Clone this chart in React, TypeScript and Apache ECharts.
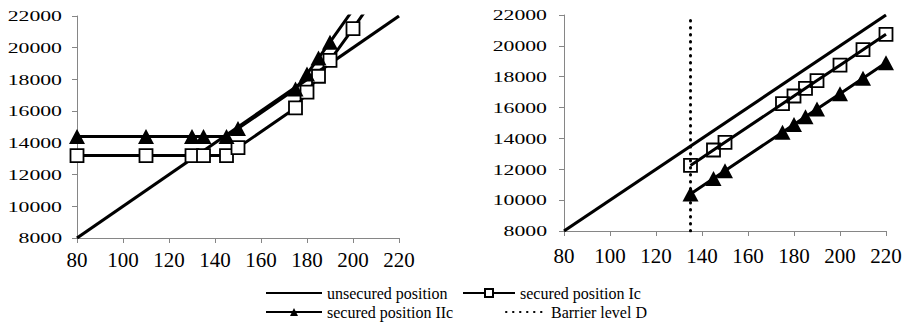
import React, { useEffect, useRef } from "react";
import * as echarts from "echarts";

// ---- data ----
const yTickLabels = [8000, 10000, 12000, 14000, 16000, 18000, 20000, 22000];

const unsecuredX = [80, 220];
const unsecuredY = [8000, 22000];

// left panel
const leftIcX = [80, 110, 130, 135, 145, 150, 175, 180, 185, 190, 200, 210];
const leftIcY = [13200, 13200, 13200, 13200, 13200, 13700, 16200, 17200, 18200, 19200, 21200, 23300];
const leftIIcX = [80, 110, 130, 135, 145, 150, 175, 180, 185, 190, 200];
const leftIIcY = [14400, 14400, 14400, 14400, 14400, 14900, 17400, 18350, 19350, 20350, 22400];

// right panel
const rightX = [135, 145, 150, 175, 180, 185, 190, 200, 210, 220];
const rightIcY = [12250, 13250, 13750, 16250, 16750, 17250, 17750, 18750, 19750, 20750];
const rightIIcY = [10400, 11400, 11900, 14400, 14900, 15400, 15900, 16900, 17900, 18900];

const barrierX = [135, 135];
const barrierY = [8000, 21800];

const names = ["unsecured position", "secured position Ic", "secured position IIc", "Barrier level D"];

const zip = (xs: number[], ys: number[]) => xs.map((x, i) => [x, ys[i]]);

const SERIF = "Liberation Serif";
const AXIS_GRAY = "#868686";

export default function App() {
  const ref = useRef<HTMLDivElement>(null);

  useEffect(() => {
    if (!ref.current) return;
    const chart = echarts.init(ref.current, null, { renderer: "svg" });

    const xAxisBase = (gridIndex: number, margin: number) => ({
      type: "value" as const,
      gridIndex,
      min: 80,
      max: 220,
      interval: 20,
      splitLine: { show: false },
      axisLine: { show: true, lineStyle: { color: AXIS_GRAY, width: 1 } },
      axisTick: { show: true, length: 5, lineStyle: { color: AXIS_GRAY } },
      axisLabel: { color: "#000", fontFamily: SERIF, fontSize: 21, margin },
    });
    const yAxisBase = (gridIndex: number) => ({
      type: "value" as const,
      gridIndex,
      min: 8000,
      max: 22000,
      interval: 2000,
      splitLine: { show: false },
      axisLine: { show: true, lineStyle: { color: AXIS_GRAY, width: 1 } },
      axisTick: { show: true, length: 5, lineStyle: { color: AXIS_GRAY } },
      axisLabel: { show: false },
    });

    const unsecured = (idx: number) => ({
      type: "line" as const,
      name: names[0],
      xAxisIndex: idx,
      yAxisIndex: idx,
      data: zip(unsecuredX, unsecuredY),
      symbol: "none",
      lineStyle: { color: "#000", width: 3.2 },
      itemStyle: { color: "#000" },
      z: 2,
    });
    const squares = (idx: number, xs: number[], ys: number[], fill: string) => ({
      type: "line" as const,
      name: names[1],
      xAxisIndex: idx,
      yAxisIndex: idx,
      data: zip(xs, ys),
      symbol: "rect",
      symbolSize: 13,
      lineStyle: { color: "#000", width: 3 },
      itemStyle: { color: fill, borderColor: "#000", borderWidth: 1.8 },
      z: 3,
    });
    const triangles = (idx: number, xs: number[], ys: number[]) => ({
      type: "line" as const,
      name: names[2],
      xAxisIndex: idx,
      yAxisIndex: idx,
      data: zip(xs, ys),
      symbol: "triangle",
      symbolSize: [16, 15],
      lineStyle: { color: "#000", width: 3 },
      itemStyle: { color: "#000" },
      z: 4,
    });

    const legendBase = (left: number, top: number, itemWidth: number, item: any) => ({
      left,
      top,
      orient: "horizontal" as const,
      padding: 0,
      itemGap: 0,
      itemWidth,
      itemHeight: 10,
      selectedMode: false,
      data: [item],
      textStyle: { fontFamily: SERIF, fontSize: 16, color: "#000" },
    });

    const option: any = {
      animation: false,
      backgroundColor: "#fff",
      textStyle: { fontFamily: SERIF },
      grid: [
        { left: 77, top: 16, width: 322, height: 222 },
        { left: 564, top: 15, width: 322, height: 216 },
      ],
      xAxis: [xAxisBase(0, 11), xAxisBase(1, 14)],
      yAxis: [yAxisBase(0), yAxisBase(1)],
      legend: [
        legendBase(265, 285, 56, { name: names[0], itemStyle: { opacity: 0 } }),
        legendBase(462, 285, 52, { name: names[1] }),
        legendBase(265, 304, 56, { name: names[2] }),
        legendBase(505, 304, 40, { name: names[3], itemStyle: { opacity: 0 } }),
      ],
      series: [
        unsecured(0),
        squares(0, leftIcX, leftIcY, "#fff"),
        triangles(0, leftIIcX, leftIIcY),
        unsecured(1),
        squares(1, rightX, rightIcY, "rgba(255,255,255,0)"),
        triangles(1, rightX, rightIIcY),
        {
          type: "line",
          name: names[3],
          xAxisIndex: 1,
          yAxisIndex: 1,
          data: zip(barrierX, barrierY),
          symbol: "none",
          lineStyle: { color: "#000", width: 3, type: [0.5, 6.5], cap: "round" },
          itemStyle: { color: "#000" },
          z: 1,
        },
      ],
    };
    chart.setOption(option);

    // y tick labels: horizontally stretched like the reference, placed via the axis scale
    const gaps = [15, 17];
    const graphics: any[] = [];
    [0, 1].forEach((gi) => {
      yTickLabels.forEach((v) => {
        const p = chart.convertToPixel({ gridIndex: gi } as any, [80, v]) as number[];
        graphics.push({
          type: "text",
          x: p[0] - gaps[gi],
          y: p[1],
          scaleX: 1.45,
          silent: true,
          style: {
            text: String(v),
            fill: "#000",
            font: "15px Liberation Serif",
            align: "right",
            verticalAlign: "middle",
          },
        });
      });
    });
    chart.setOption({ graphic: graphics });

    return () => chart.dispose();
  }, []);

  return (
    <div
      ref={ref}
      style={{ position: "absolute", left: 0, top: 0, width: 905, height: 334, background: "#fff" }}
    />
  );
}
